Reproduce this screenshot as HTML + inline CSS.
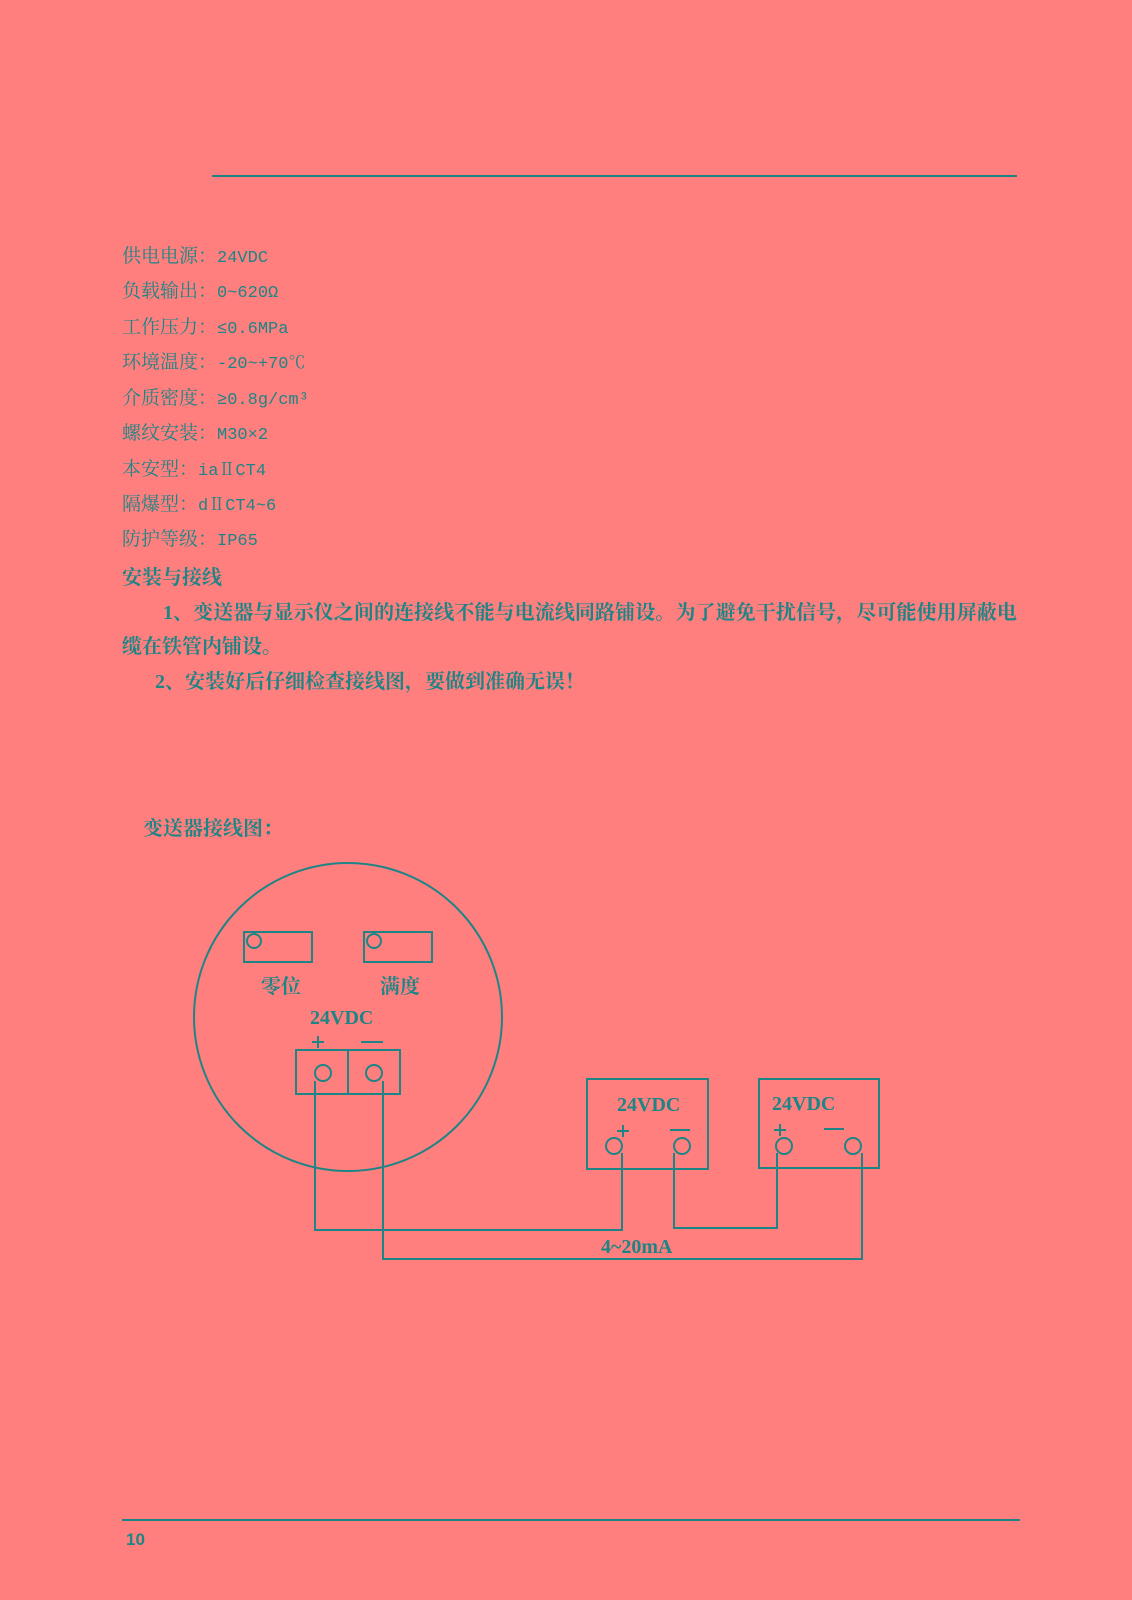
<!DOCTYPE html>
<html><head><meta charset="utf-8"><style>
body{margin:0;background:#FF7F7F;}
svg{display:block}
.t{font-family:"Liberation Serif","Noto Serif CJK SC",serif;font-size:19px;fill:#1d8585}
.m{font-family:"Liberation Mono","Noto Serif CJK SC",monospace;font-size:17px}
.b{font-weight:bold}
</style></head><body>
<svg width="1132" height="1600" viewBox="0 0 1132 1600" xmlns="http://www.w3.org/2000/svg">
<rect width="1132" height="1600" fill="#FF7F7F"/>
<g stroke="#1d8585" stroke-width="2" fill="none">
<line x1="212" y1="176" x2="1017" y2="176"/>
<line x1="122" y1="1520" x2="1020" y2="1520"/>
<circle cx="348" cy="1017" r="154"/>
<rect x="244" y="932" width="68" height="30"/>
<rect x="364" y="932" width="68" height="30"/>
<circle cx="254" cy="941" r="7"/>
<circle cx="374" cy="941" r="7"/>
<rect x="296" y="1050" width="104" height="44"/>
<line x1="348" y1="1050" x2="348" y2="1094"/>
<circle cx="323" cy="1073" r="8"/>
<circle cx="374" cy="1073" r="8"/>
<rect x="587" y="1079" width="121" height="90"/>
<circle cx="614" cy="1146" r="8"/>
<circle cx="682" cy="1146" r="8"/>
<rect x="759" y="1079" width="120" height="89"/>
<circle cx="784" cy="1146" r="8"/>
<circle cx="853" cy="1146" r="8"/>
<polyline points="315,1081 315,1230 622,1230 622,1153"/>
<polyline points="674,1153 674,1228 777,1228 777,1153"/>
<polyline points="862,1153 862,1259 383,1259 383,1081"/>
<line x1="312" y1="1042" x2="324" y2="1042"/><line x1="318" y1="1036" x2="318" y2="1048"/>
<line x1="361" y1="1042" x2="383" y2="1042"/>
<line x1="617" y1="1131" x2="629" y2="1131"/><line x1="623" y1="1125" x2="623" y2="1137"/>
<line x1="670" y1="1130" x2="690" y2="1130"/>
<line x1="774" y1="1130" x2="786" y2="1130"/><line x1="780" y1="1124" x2="780" y2="1136"/>
<line x1="824" y1="1129" x2="844" y2="1129"/>
</g>
<g class="t">
<text x="122" y="262">供电电源：<tspan class="m">24VDC</tspan></text>
<text x="122" y="297">负载输出：<tspan class="m">0~620Ω</tspan></text>
<text x="122" y="333">工作压力：<tspan class="m">≤0.6MPa</tspan></text>
<text x="122" y="368">环境温度：<tspan class="m">-20~+70℃</tspan></text>
<text x="122" y="404">介质密度：<tspan class="m">≥0.8g/cm³</tspan></text>
<text x="122" y="439">螺纹安装：<tspan class="m">M30×2</tspan></text>
<text x="122" y="475">本安型：<tspan class="m">iaⅡCT4</tspan></text>
<text x="122" y="510">隔爆型：<tspan class="m">dⅡCT4~6</tspan></text>
<text x="122" y="545">防护等级：<tspan class="m">IP65</tspan></text>
<text x="122" y="584" class="b" style="font-size:20px">安装与接线</text>
<text x="163" y="619" class="b" style="font-size:20px" textLength="854" lengthAdjust="spacingAndGlyphs">1、变送器与显示仪之间的连接线不能与电流线同路铺设。为了避免干扰信号，尽可能使用屏蔽电</text>
<text x="122" y="653" class="b" style="font-size:20px">缆在铁管内铺设。</text>
<text x="155" y="688" class="b" style="font-size:20px">2、安装好后仔细检查接线图，要做到准确无误！</text>
<text x="143" y="835" class="b" style="font-size:20px">变送器接线图：</text>
<text x="261" y="993" class="b" style="font-size:20px">零位</text>
<text x="380" y="993" class="b" style="font-size:20px">满度</text>
<text x="310" y="1024" class="b" style="font-size:20px">24VDC</text>
<text x="617" y="1111" class="b" style="font-size:20px">24VDC</text>
<text x="772" y="1110" class="b" style="font-size:20px">24VDC</text>
<text x="601" y="1253" class="b" style="font-size:20px">4~20mA</text>
<text x="126" y="1545" style="font-family:'Liberation Sans',sans-serif;font-weight:bold;font-size:17px">10</text>
</g>
</svg>
</body></html>
